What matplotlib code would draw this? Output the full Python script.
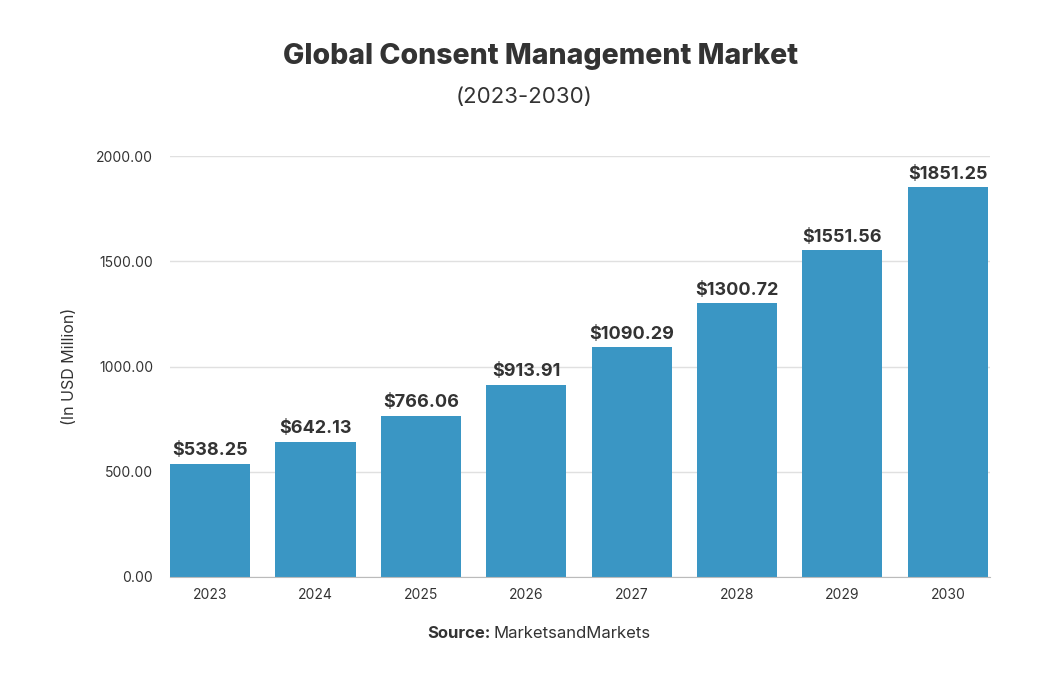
import matplotlib.pyplot as plt

years = ["2023", "2024", "2025", "2026", "2027", "2028", "2029", "2030"]
market = [538.25, 642.13, 766.06, 913.91, 1090.29, 1300.72, 1551.56, 1851.25]
yticks = [0, 500, 1000, 1500, 2000]

plt.rcParams["font.family"] = ["Inter", "DejaVu Sans"]

bar_color = "#3a96c4"
text_color = "#333333"

fig = plt.figure(figsize=(10.48, 6.89), dpi=100)
ax = fig.add_axes([170 / 1048, 1 - 577 / 689, (990 - 170) / 1048, (577 - 156) / 689])

x = range(len(years))
ax.bar(x, market, width=0.76, color=bar_color, zorder=2)
for xi, v in zip(x, market):
    ax.text(xi, v + 22, f"${v:.2f}", ha="center", va="bottom",
            fontsize=13, fontweight="bold", color=text_color)

ax.set_xlim(-0.38, 7.4)
ax.set_ylim(0, 2000)
ax.set_yticks(yticks)
ax.set_yticklabels([f"{t:.2f}" for t in yticks])
ax.set_xticks(list(x))
ax.set_xticklabels(years)
ax.tick_params(axis="both", length=0, labelsize=10, colors=text_color)
ax.tick_params(axis="y", pad=12)
ax.tick_params(axis="x", pad=8)
ax.grid(axis="y", color="#e0e0e0", linewidth=1, zorder=0)
for s in ["top", "right", "left"]:
    ax.spines[s].set_visible(False)
ax.spines["bottom"].set_color("#bbbbbb")
ax.spines["bottom"].set_zorder(3)

ax.set_ylabel("(In USD Million)", fontsize=11.5, color=text_color, labelpad=14)

fig.text(0.516, 1 - 57 / 689, "Global Consent Management Market", ha="center", va="center",
         fontsize=20.5, fontweight="heavy", color=text_color)
fig.text(0.5, 1 - 97 / 689, "(2023-2030)", ha="center", va="center",
         fontsize=16, color=text_color)

fig.text(0.468, 1 - 633 / 689, "Source:", ha="right", va="center",
         fontsize=12, fontweight="bold", color=text_color)
fig.text(0.471, 1 - 633 / 689, "MarketsandMarkets", ha="left", va="center",
         fontsize=12, color=text_color)

fig.savefig("out.png", dpi=100, facecolor="white")
